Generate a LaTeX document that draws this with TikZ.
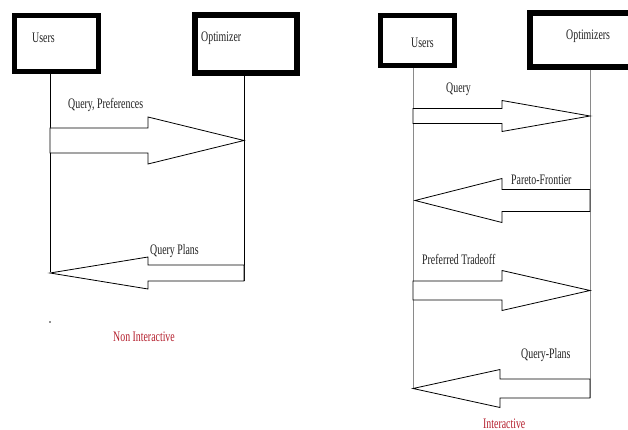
\documentclass[tikz,border=0pt]{standalone}
\usepackage{fontspec}
\setmainfont{Liberation Serif}
\newfontfamily\condfont[FakeStretch=0.68]{Liberation Serif}
\definecolor{txtred}{HTML}{B5202E}
\definecolor{txtdark}{HTML}{222222}
\definecolor{lifegray}{HTML}{8A8A8A}
\tikzset{
  actorbox/.style={draw=black, fill=white, rectangle, inner sep=0pt},
  lbl/.style={anchor=base west, inner sep=0pt, text=txtdark, font=\condfont\fontsize{14.5}{16}\selectfont},
  redlbl/.style={lbl, text=txtred},
  lifeline/.style={draw=black, line width=0.9pt},
  graylife/.style={draw=lifegray, line width=0.9pt},
  blockarrow/.style={draw=black, line width=0.8pt, fill=white, line join=miter},
}
% #1 tail x, #2 tip x, #3 centre y, #4 head base x, #5 shaft half, #6 head half
\newcommand\blockarrowpath[6]{%
  \path[blockarrow] (#1,#3-#5) -- (#4,#3-#5) -- (#4,#3-#6) -- (#2,#3) -- (#4,#3+#6) -- (#4,#3+#5) -- (#1,#3+#5) -- cycle;}
\begin{document}
\begin{tikzpicture}[x=1pt,y=-1pt]
\useasboundingbox[fill=white] (0,0) rectangle (628,430);

% ---------- left: non interactive ----------
\node[actorbox, line width=5pt, minimum width=84pt, minimum height=56pt] (u1) at (56.5,43.5) {};
\node[actorbox, line width=6pt, minimum width=102pt, minimum height=58pt] (o1) at (246,44) {};
\node[lbl] (u1t) at (32,43) {Users};
\node[lbl] (o1t) at (201,41.5) {Optimizer};

\coordinate (u1end) at (50,272);
\coordinate (o1end) at (244,281);
\draw[lifeline] (u1.south -| u1end) -- (u1end);
\draw[lifeline] (o1.south -| o1end) -- (o1end);

\blockarrowpath{50}{244}{140.5}{148}{12.5}{23.5}
\node[lbl] (a1t) at (68,109) {Query, Preferences};

\blockarrowpath{244}{50}{273}{148}{8}{16}
\node[lbl] (a2t) at (150,254) {Query Plans};

\fill[txtdark] (50,322) circle (0.8);
\node[redlbl] (nit) at (113,341) {Non Interactive};

% ---------- right: interactive ----------
\node[actorbox, line width=5pt, minimum width=74pt, minimum height=50pt] (u2) at (417.5,40.5) {};
\node[actorbox, line width=6pt, minimum width=110pt, minimum height=54pt] (o2) at (585,40) {};
\node[lbl] (u2t) at (411,48) {Users};
\node[lbl] (o2t) at (566,40) {Optimizers};

\coordinate (u2end) at (413,388);
\coordinate (o2end) at (590,398);
\draw[graylife] (u2.south -| u2end) -- (u2end);
\draw[graylife] (o2.south -| o2end) -- (o2end);

\blockarrowpath{413}{590}{116}{502}{7.5}{15.5}
\node[lbl] (b1t) at (446,93) {Query};

\blockarrowpath{590}{415}{200.5}{502}{11}{22}
\node[lbl] (b2t) at (511,185) {Pareto-Frontier};

\blockarrowpath{413}{590}{290.5}{502}{9.5}{20}
\node[lbl] (b3t) at (422,264) {Preferred Tradeoff};

\blockarrowpath{590}{413}{388.5}{500}{9.5}{19}
\node[lbl] (b4t) at (521,358) {Query-Plans};

\node[redlbl] (it) at (483,428) {Interactive};
\end{tikzpicture}
\end{document}
